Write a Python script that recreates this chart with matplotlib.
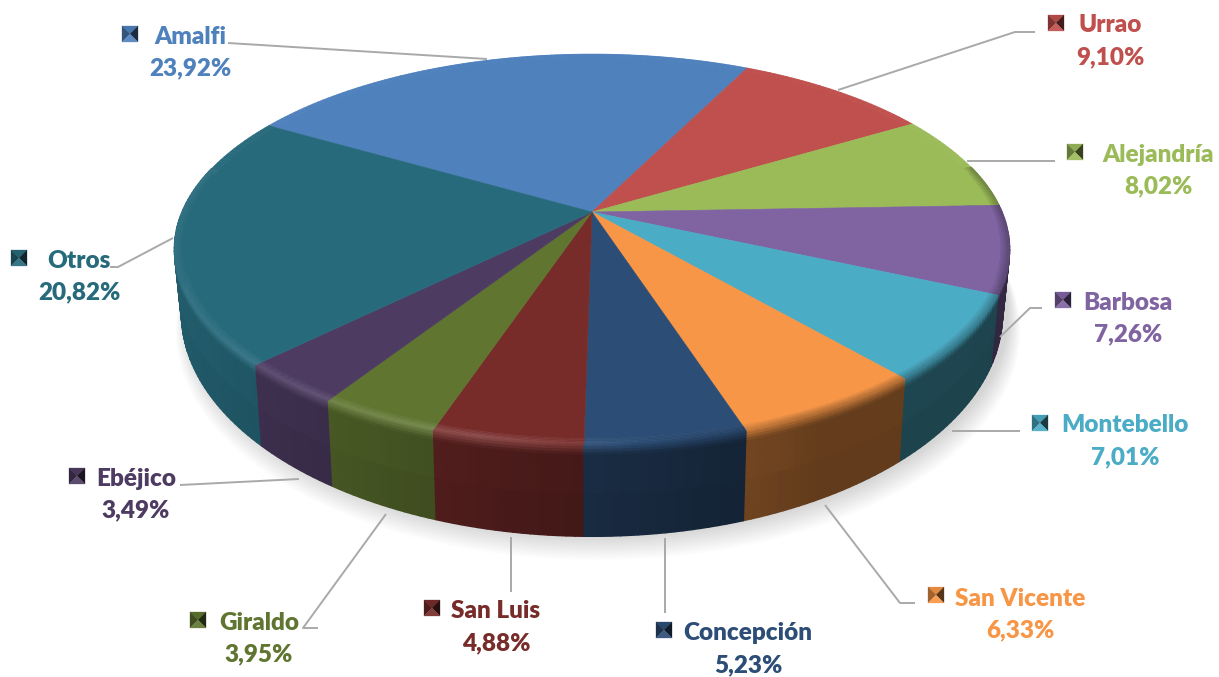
import numpy as np
import matplotlib
matplotlib.use("Agg")
import matplotlib.pyplot as plt
from matplotlib.collections import PolyCollection
from matplotlib.colors import to_rgb
from matplotlib.patches import Polygon

categories = ["Amalfi", "Urrao", "Alejandría", "Barbosa", "Montebello", "San Vicente",
              "Concepción", "San Luis", "Giraldo", "Ebéjico", "Otros"]
values = [23.92, 9.10, 8.02, 7.26, 7.01, 6.33, 5.23, 4.88, 3.95, 3.49, 20.82]
colors = ["#4F81BD", "#C0504D", "#9BBB59", "#8064A2", "#4BACC6", "#F79646",
          "#2C4D75", "#772C2A", "#5F7530", "#4D3B62", "#276A7C"]

# layout (pixels): label centre x, name y, percent y, key x, key y
label_pos = {
    "Amalfi": (190, 35, 67, 130, 34), "Urrao": (1110, 24, 56, 1056, 23),
    "Alejandría": (1158, 153, 185, 1075, 152), "Barbosa": (1128, 301, 333, 1063, 300),
    "Montebello": (1125, 424, 456, 1040, 423), "San Vicente": (1020, 597, 629, 936, 595),
    "Concepción": (748, 631, 664, 664, 630), "San Luis": (496, 610, 642, 432, 608),
    "Giraldo": (259, 621, 653, 198, 620), "Ebéjico": (136, 477, 509, 77, 476),
    "Otros": (79, 259, 291, 19, 258),
}
leaders = {
    "Amalfi": [(228, 43), (487, 59)], "Urrao": [(1035, 32), (1015, 32), (838, 90)],
    "Alejandría": [(1055, 161), (967, 161)], "Barbosa": [(1042, 308), (1030, 308), (1000, 337)],
    "Montebello": [(1020, 431), (952, 431)], "San Vicente": [(915, 603), (900, 603), (825, 505)],
    "Concepción": [(665, 613), (665, 538)], "San Luis": [(511, 592), (511, 537)],
    "Giraldo": [(318, 628), (303, 628), (386, 514)], "Ebéjico": [(180, 485), (299, 479)],
    "Otros": [(110, 267), (118, 267), (173, 238)],
}

plt.rcParams["font.family"] = ["Lato", "DejaVu Sans"]
W, H = 1219, 677
fig = plt.figure(figsize=(W / 100, H / 100), dpi=100, facecolor="white")
ax = fig.add_axes([0, 0, 1, 1])
ax.set_xlim(0, W)
ax.set_ylim(H, 0)
ax.axis("off")

# projection of the pie disk
CX, CY = 592, 212
K, A, B = 0.19, 410, 188
START = 149.8


def top(theta, r=1.0):
    u, v = r * np.cos(theta), r * np.sin(theta)
    w = 1 + K * v
    return CX + A * u / w, CY - B * v / w


def lower(x, y, d=1.0):
    return CX + (1 - 0.017 * d) * (x - CX), y + d * (0.141 * (y - CY) + 59.5)


def mix(a, b, f):
    return tuple(a[i] + (b[i] - a[i]) * f for i in range(3))


def wall_factor(x):
    return np.interp(x, [180, 300, 380, 510, 660, 820, 1000], [.87, .77, .72, .62, .53, .41, .40])


def rim_color(c, x):
    h = np.interp(x, [180, 300, 480, 620, 800], [.05, .10, .15, .03, -.25])
    return mix(c, (1, 1, 1), h) if h > 0 else mix(c, (0, 0, 0), -h)


fractions = np.array(values) / sum(values)
edges = np.radians(START) - 2 * np.pi * np.concatenate([[0], np.cumsum(fractions)])

# soft shadow
tt = np.linspace(0, 2 * np.pi, 361)
sx, sy = lower(*top(tt))
for i in range(14):
    g = 1 + 0.0022 * i
    ax.add_patch(Polygon(np.c_[CX + 6 + (sx - CX) * g, (sy - 300) * g + 300 + i * 1.3],
                         closed=True, fc="black", ec="none", alpha=0.013, zorder=1))

# wall, painted from back to front
depths = np.array([0, .03, .06, .09, .12, .55, 1])
quads, qcols, qkeys = [], [], []
for k, c in enumerate(colors):
    base = to_rgb(c)
    n = max(int(np.degrees(edges[k] - edges[k + 1])), 2)
    th = np.linspace(edges[k], edges[k + 1], n + 1)
    for a0, a1 in zip(th[:-1], th[1:]):
        x0, y0 = top(a0)
        x1, y1 = top(a1)
        if np.sin((a0 + a1) / 2) > 0.25:
            continue
        xm = (x0 + x1) / 2
        rim = rim_color(base, xm)
        dark = mix(base, (0, 0, 0), 1 - wall_factor(xm))
        for d0, d1 in zip(depths[:-1], depths[1:]):
            p = [lower(x0, y0, d0), lower(x1, y1, d0), lower(x1, y1, d1), lower(x0, y0, d1)]
            f = min((d0 + d1) / 2 / 0.12, 1)
            col = mix(rim, dark, f)
            if d0 >= .12:
                col = mix(dark, (0, 0, 0), 0.08 * (d0 - .12))
            quads.append(p)
            qcols.append(col)
            qkeys.append(-np.sin((a0 + a1) / 2))
order = np.argsort(qkeys, kind="stable")
ax.add_collection(PolyCollection([quads[i] for i in order], facecolors=[qcols[i] for i in order],
                                 edgecolors="face", linewidths=1.0, zorder=2))

# top face with bevelled rim
rings = np.array([.98, .985, .99, .995, 1])
for k, c in enumerate(colors):
    base = to_rgb(c)
    n = max(int(np.degrees(edges[k] - edges[k + 1])), 2)
    th = np.linspace(edges[k], edges[k + 1], n + 1)
    xs, ys = top(th, rings[0])
    ax.add_patch(Polygon(np.r_[[(CX, CY)], np.c_[xs, ys]], closed=True, fc=base, ec=base, lw=0.4, zorder=3))
    rq, rc = [], []
    for a0, a1 in zip(th[:-1], th[1:]):
        xm, _ = top((a0 + a1) / 2)
        rim = rim_color(base, xm)
        back = np.sin((a0 + a1) / 2) > 0.25
        for j, (r0, r1) in enumerate(zip(rings[:-1], rings[1:])):
            rq.append([top(a0, r0), top(a1, r0), top(a1, r1), top(a0, r1)])
            rc.append(base if back else mix(base, rim, (j + 1) / 4))
    ax.add_collection(PolyCollection(rq, facecolors=rc, edgecolors="face", linewidths=0.4, zorder=3))

# leaders, labels, keys
for name, val, c in zip(categories, values, colors):
    pts = np.array(leaders[name])
    ax.plot(pts[:, 0], pts[:, 1], color="#A9A9A9", lw=1.4, zorder=4, solid_capstyle="butt")
    lx, ny, py, kx, ky = label_pos[name]
    ax.text(lx, ny + 1.5, name, color=c, fontsize=17.5, fontweight="heavy", ha="center", va="center", zorder=5)
    ax.text(lx, py + 1.5, f"{val:.2f}%".replace(".", ","), color=c, fontsize=17.5, fontweight="heavy",
            ha="center", va="center", zorder=5)
    b = to_rgb(c)
    s = 8
    tris = [([(-s, -s), (s, -s), (0, 0)], mix(b, (0, 0, 0), .08)),
            ([(-s, -s), (-s, s), (0, 0)], mix(b, (0, 0, 0), .35)),
            ([(s, -s), (s, s), (0, 0)], mix(b, (0, 0, 0), .65)),
            ([(-s, s), (s, s), (0, 0)], mix(b, (1, 1, 1), .08))]
    for tri, col in tris:
        ax.add_patch(Polygon([(kx + x, ky + y) for x, y in tri], closed=True, fc=col, ec=col, lw=0.2, zorder=5))

fig.savefig("out.png", dpi=100, facecolor="white")
